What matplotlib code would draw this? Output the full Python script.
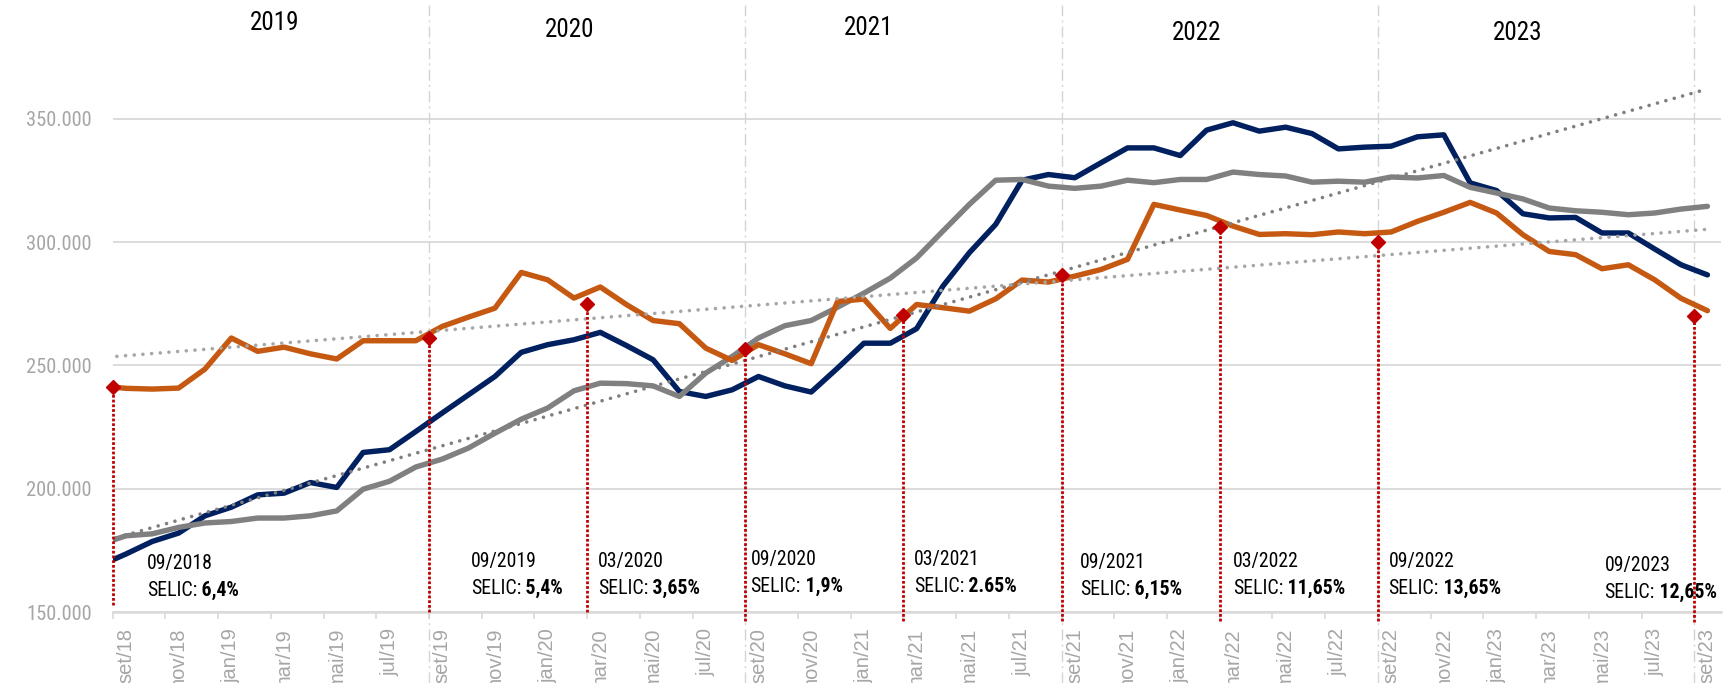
import numpy as np
import matplotlib
matplotlib.use('Agg')
import matplotlib.pyplot as plt
from matplotlib import font_manager as fm

# ---------------- data (thousands) : ago/18 .. set/23 ----------------
month_index = list(range(-1, 61))  # -1 = ago/18, 0 = set/18, 60 = set/23

navy = [168.8, 173.5, 178.6, 182.0, 189.0, 192.5, 197.5, 198.2, 202.5, 200.5,
        214.7, 215.8, 223.2, 230.7, 238.1, 245.5, 255.3, 258.4, 260.4, 263.4,
        258.0, 252.3, 239.4, 237.4, 240.1, 245.5, 241.7, 239.2, 248.9, 259.0,
        259.0, 264.9, 282.2, 295.7, 307.2, 325.1, 327.4, 326.1, 332.2, 338.2,
        338.2, 335.1, 345.4, 348.4, 345.0, 346.6, 344.0, 337.8, 338.5, 338.9,
        342.7, 343.5, 324.0, 320.9, 311.5, 309.8, 310.0, 303.7, 303.7, 297.2,
        290.8, 286.7]

gray = [177.3, 180.9, 181.7, 184.3, 186.1, 186.7, 188.1, 188.1, 189.0, 191.0,
        199.8, 203.0, 208.8, 212.0, 216.5, 222.5, 228.2, 232.7, 239.7, 242.8,
        242.6, 241.7, 237.4, 246.9, 253.6, 261.1, 266.1, 268.2, 273.6, 279.3,
        285.4, 293.6, 304.5, 315.3, 325.1, 325.4, 322.7, 321.8, 322.7, 325.1,
        324.1, 325.4, 325.4, 328.4, 327.4, 326.8, 324.3, 324.7, 324.3, 326.4,
        326.0, 327.0, 322.2, 319.9, 317.5, 313.8, 312.7, 312.1, 311.1, 311.8,
        313.4, 314.5]

orange = [241.8, 240.7, 240.4, 240.8, 248.5, 261.1, 255.7, 257.4, 254.7, 252.6,
          260.0, 260.0, 260.0, 265.8, 269.6, 273.2, 287.7, 284.7, 277.3, 281.8,
          274.6, 268.2, 266.9, 257.0, 252.0, 258.4, 254.7, 250.7, 275.9, 276.9,
          265.0, 274.7, 273.4, 272.0, 277.0, 284.6, 283.8, 286.2, 288.9, 293.0,
          315.3, 313.0, 310.8, 306.5, 303.1, 303.4, 303.0, 304.1, 303.4, 304.1,
          308.4, 312.1, 316.1, 311.8, 303.0, 296.2, 294.9, 289.2, 290.8, 284.7,
          277.2, 272.2]

# trend lines (values read at ago/18 and set/23)
trend_months = [-1, 60]
trend_steep = [178.2, 362.1]
trend_orange = [253.1, 305.2]

# SELIC markers
selic_month = [0, 12, 18, 24, 30, 36, 42, 48, 60]
selic_value = [241.2, 261.1, 275.0, 256.6, 270.4, 286.6, 306.2, 299.9, 270.2]
selic_line_end = [153.0, 150.0, 150.0, 146.5, 146.5, 146.5, 146.5, 146.5, 146.0]
selic_date = ['09/2018', '09/2019', '03/2020', '09/2020', '03/2021',
              '09/2021', '03/2022', '09/2022', '09/2023']
selic_rate = ['6,4%', '5,4%', '3,65%', '1,9%', '2.65%',
              '6,15%', '11,65%', '13,65%', '12,65%']

years = ['2019', '2020', '2021', '2022', '2023']
year_sep_month = [12, 24, 36, 48, 60]

tick_labels = ['set/18', 'nov/18', 'jan/19', 'mar/19', 'mai/19', 'jul/19',
               'set/19', 'nov/19', 'jan/20', 'mar/20', 'mai/20', 'jul/20',
               'set/20', 'nov/20', 'jan/21', 'mar/21', 'mai/21', 'jul/21',
               'set/21', 'nov/21', 'jan/22', 'mar/22', 'mai/22', 'jul/22',
               'set/22', 'nov/22', 'jan/23', 'mar/23', 'mai/23', 'jul/23',
               'set/23']
y_ticks = [150, 200, 250, 300, 350]

# ---------------- fonts ----------------
names = {f.name for f in fm.fontManager.ttflist}
NARROW, NSCALE = 'Liberation Sans', 0.85
for fam, sc in [('Liberation Sans Narrow', 1.0), ('Arial Narrow', 1.0),
                ('Roboto Condensed', 0.93), ('Open Sans Condensed', 0.95)]:
    if fam in names:
        NARROW, NSCALE = fam, sc
        break
REG = 'Liberation Sans'

C_NAVY = '#002060'
C_GRAY = '#808080'
C_ORANGE = '#C65911'
C_RED = '#C00000'
C_GRID = '#D9D9D9'
C_LABEL = '#A6A6A6'

W, H = 1725, 683
fig = plt.figure(figsize=(W / 100, H / 100), dpi=100, facecolor='white')
left_px, right_px, bottom_px, top_px = 112.7, 1720.6, 612.0, 0.0
ax = fig.add_axes([left_px / W, (H - bottom_px) / H,
                   (right_px - left_px) / W, (bottom_px - top_px) / H])
ax.set_facecolor('white')
ax.set_xlim(-0.5, 60.5)
ax.set_ylim(150000, 150000 + 612 / 123.3 * 50000)

K = 1000.0
x = np.array(month_index)

# grid & axes
ax.set_yticks([v * K for v in y_ticks])
ax.set_yticklabels([f'{v}.000' for v in y_ticks], fontfamily=NARROW,
                   fontsize=15.9 * NSCALE, color=C_LABEL)
ax.yaxis.grid(True, color=C_GRID, lw=1.3, zorder=0)
ax.set_axisbelow(True)
ax.tick_params(axis='y', length=0, pad=15)
for s in ['left', 'right', 'top']:
    ax.spines[s].set_visible(False)
ax.spines['bottom'].set_color(C_GRID)
ax.spines['bottom'].set_linewidth(1.8)
ax.spines['bottom'].set_zorder(1)

ax.set_xticks(np.arange(0, 61, 2))
ax.set_xticklabels(tick_labels, rotation=90, fontfamily=REG, fontsize=14.5,
                   color=C_LABEL, va='top', ha='center')
ax.tick_params(axis='x', which='major', length=0, pad=11.5)
ax.set_xticks(np.arange(-0.5, 60, 2), minor=True)
ax.tick_params(axis='x', which='minor', length=5, width=1.2, color=C_GRID)

# year separators
for m in year_sep_month:
    ax.axvline(m - 0.5, ymin=-0.116, ymax=0.992, color='#D4D4D4', lw=1.0,
               dashes=(8, 3, 1.5, 3), clip_on=False, zorder=1)

# series
for vals, col, z in [(navy, C_NAVY, 3), (gray, C_GRAY, 4), (orange, C_ORANGE, 5)]:
    ax.plot(x, np.array(vals) * K, color=col, lw=3.9, solid_joinstyle='round',
            solid_capstyle='round', zorder=z)

# trend lines
ax.plot(trend_months, np.array(trend_steep) * K, color='#7F7F7F', lw=2.6,
        linestyle=(0, (0.01, 2.4)), dash_capstyle='round', zorder=6)
ax.plot(trend_months, np.array(trend_orange) * K, color='#A6A6A6', lw=2.6,
        linestyle=(0, (0.01, 2.4)), dash_capstyle='round', zorder=6)

# SELIC drop lines & diamonds
sx = np.array(selic_month) - 0.5
ax.vlines(sx, np.array(selic_line_end) * K, np.array(selic_value) * K,
          colors=C_RED, lw=2.0, linestyles=(0, (1.0, 0.7)), clip_on=False,
          zorder=7)
ax.plot(sx, np.array(selic_value) * K, linestyle='none', marker='D', ms=7.5,
        color=C_RED, mec=C_RED, clip_on=False, zorder=8)

# year labels
year_x = [5.66, 16.85, 28.19, 40.63, 52.81]
year_y = [388.8, 386.0, 387.0, 384.8, 384.8]
for t, xx, yy in zip(years, year_x, year_y):
    ax.text(xx, yy * K, t, ha='center', va='center', fontfamily=NARROW,
            fontsize=19.5 * NSCALE, color='black', zorder=9)

# annotations
note_x = [0.8, 13.1, 17.9, 23.7, 29.9, 36.2, 42.0, 47.9, 56.1]
note_y = [169.5, 170.3, 170.3, 171.1, 171.1, 169.9, 170.3, 170.3, 168.7]
fs_note = 15.3 * NSCALE
for d, r, xx, yy in zip(selic_date, selic_rate, note_x, note_y):
    ax.text(xx, yy * K, d, ha='left', va='center', fontfamily=NARROW,
            fontsize=fs_note, color='black', zorder=2)
    t2 = ax.annotate('SELIC:', xy=(xx, yy * K), xytext=(0, -19.4),
                     textcoords='offset points', ha='left', va='center',
                     fontfamily=NARROW, fontsize=fs_note, color='black',
                     zorder=2, annotation_clip=False)
    ax.annotate(' ' + r, xy=(1, 0), xycoords=t2, ha='left', va='bottom',
                fontfamily=NARROW, fontsize=fs_note, fontweight='bold',
                color='black', zorder=2, annotation_clip=False)

fig.savefig('out.png', dpi=100, facecolor='white')
